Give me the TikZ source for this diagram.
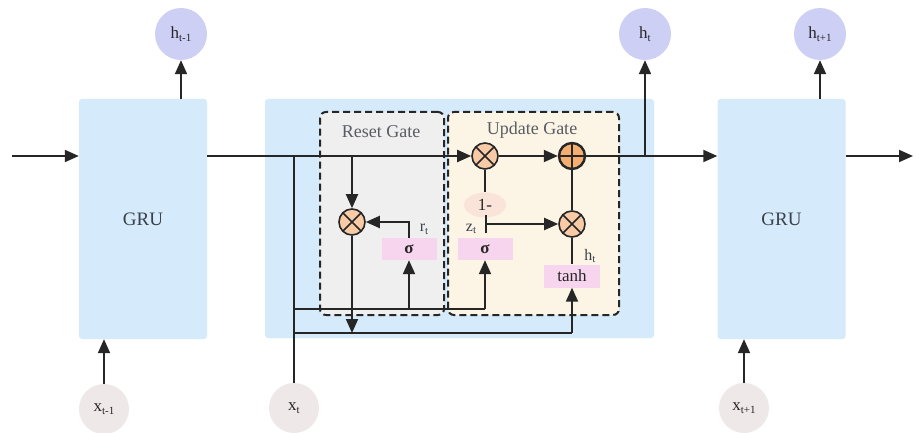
\documentclass[tikz,border=0pt]{standalone}
\usepackage{fontspec}
\setmainfont{Liberation Serif}
\usetikzlibrary{arrows.meta,shapes.geometric}
\definecolor{grublue}{HTML}{D5EAFB}
\definecolor{resetgray}{HTML}{EFEFEF}
\definecolor{updcream}{HTML}{FCF5E6}
\definecolor{opfill}{HTML}{F8CBA6}
\definecolor{plusfill}{HTML}{F4AE72}
\definecolor{sigpink}{HTML}{F8D5EE}
\definecolor{onefill}{HTML}{FAE3D8}
\definecolor{hcirc}{HTML}{CDCFF5}
\definecolor{xcirc}{HTML}{EFE8E8}
\definecolor{ink}{HTML}{262626}
\definecolor{txt}{HTML}{3A4048}
\newcommand{\mysub}[1]{\raisebox{-0.35ex}{\fontsize{11}{12}\selectfont #1}}
\begin{document}
\begin{tikzpicture}[x=1pt,y=-1pt,
  line/.style={draw=ink, line width=2pt},
  arr/.style={line, -{Triangle[length=14pt,width=12pt]}},
  grubox/.style={fill=grublue, rounded corners=3pt, minimum width=128pt, minimum height=240pt, inner sep=0pt, text=txt, font=\fontsize{19}{21}\selectfont},
  gatebox/.style={draw=ink, line width=2pt, dash pattern=on 7pt off 4pt, rounded corners=6pt, minimum height=203pt, inner sep=0pt},
  opx/.style={circle, draw=ink, line width=1.6pt, fill=opfill, minimum size=26pt, inner sep=0pt,
    path picture={\draw[ink, line width=1.6pt] (path picture bounding box.north west) -- (path picture bounding box.south east) (path picture bounding box.north east) -- (path picture bounding box.south west);}},
  opplus/.style={circle, draw=ink, line width=2.4pt, fill=plusfill, minimum size=26pt, inner sep=0pt,
    path picture={\draw[ink, line width=1.8pt] (path picture bounding box.north) -- (path picture bounding box.south) (path picture bounding box.east) -- (path picture bounding box.west);}},
  actbox/.style={fill=sigpink, minimum width=55pt, minimum height=22pt, inner sep=0pt, text=ink, font=\fontsize{17}{19}\selectfont},
  hnode/.style={circle, fill=hcirc, minimum size=52pt, inner sep=0pt, text=ink, font=\fontsize{17}{19}\selectfont},
  xnode/.style={circle, fill=xcirc, minimum size=50pt, inner sep=0pt, text=ink, font=\fontsize{17}{19}\selectfont},
  lbl/.style={text=txt, font=\fontsize{16}{18}\selectfont, inner sep=0pt},
  gtitle/.style={text=txt!85, font=\fontsize{18}{20}\selectfont, inner sep=0pt}
]
\useasboundingbox[fill=white] (0,0) rectangle (919,433);

% big boxes
\node[grubox] (gru1) at (143,219) {GRU};
\node[fill=grublue, rounded corners=3pt, minimum width=389pt, minimum height=239pt, inner sep=0pt] (mid) at (459.5,218.5) {};
\node[grubox] (gru3) at (781.5,219) {GRU};

% gate boxes
\node[gatebox, fill=resetgray, minimum width=124pt] (reset) at (382,213.5) {};
\node[gatebox, fill=updcream, minimum width=171pt] (update) at (533.5,213.5) {};
\node[gtitle] (rtitle) at (381,132) {Reset Gate};
\node[gtitle] (utitle) at (532,130) {Update Gate};

% h and x circles
\node[hnode] (hprev) at (181,34) {h\mysub{t-1}};
\node[hnode] (ht) at (645,34) {h\mysub{t}};
\node[hnode] (hnext) at (820,34) {h\mysub{t+1}};
\node[xnode] (xprev) at (104,409) {x\mysub{t-1}};
\node[xnode] (xt) at (294,408) {x\mysub{t}};
\node[xnode] (xnext) at (744,408) {x\mysub{t+1}};

% operators
\node[opx] (mu1) at (485,156) {};
\node[opplus] (plus) at (572,156) {};
\node[opx] (mr) at (352,222) {};
\node[opx] (mh) at (572,224) {};
\node[actbox] (sigr) at (409,249) {\bfseries σ};
\node[actbox] (sigz) at (485,249) {\bfseries σ};
\node[actbox, minimum width=56pt, minimum height=23pt] (tanh) at (572,276) {tanh};
\node[ellipse, fill=onefill, minimum width=42pt, minimum height=25pt, inner sep=0pt, text=ink, font=\fontsize{17}{19}\selectfont] (one) at (485,205) {1-};

% labels
\node[lbl] (rlab) at (424,229) {r\mysub{t}};
\node[lbl] (zlab) at (471,229) {z\mysub{t}};
\node[lbl] (hlab) at (590,256) {h\mysub{t}};

% coordinates
\coordinate (in) at (12,156);
\coordinate (out) at (913,156);
\coordinate (xtop) at (294,156);
\coordinate (jh) at (645,156);
\coordinate (rdown) at (352,156);
\coordinate (l1) at (294,309);
\coordinate (l1r) at (409,309);
\coordinate (l1z) at (485,309);
\coordinate (l2) at (294,333);
\coordinate (l2r) at (352,333);
\coordinate (l2t) at (572,333);
\coordinate (zt) at (485,224);

% main line
\draw[arr] (in) -- (gru1.west |- in);
\draw[arr] (gru1.east |- in) -- (mu1.west);
\draw[arr] (mu1.east) -- (plus.west);
\draw[line] (plus.east) -- (jh);
\draw[arr] (jh) -- (ht.south);
\draw[arr] (jh) -- (gru3.west |- jh);
\draw[arr] (gru3.east |- out) -- (out);

% side GRU in/out
\draw[arr] (gru1.north -| hprev) -- (hprev.south);
\draw[arr] (xprev.north) -- (gru1.south -| xprev);
\draw[arr] (gru3.north -| hnext) -- (hnext.south);
\draw[arr] (xnext.north) -- (gru3.south -| xnext);

% x_t distribution
\draw[line] (xt.north) -- (xtop);
\draw[line] (l1) -- (l1z);
\draw[arr] (l1z) -- (sigz.south);
\draw[arr] (l1r) -- (sigr.south);
\draw[line] (l2) -- (l2t);
\draw[arr] (l2t) -- (tanh.south);

% reset gate
\draw[arr] (rdown) -- (mr.north);
\draw[arr] (mr.south) -- (l2r);
\draw[arr] (sigr.north) |- (mr.east);

% update gate
\draw[line] (mu1.south) -- (one.north);
\draw[line, {Bar[width=17pt]}-{Triangle[length=14pt,width=12pt]}] (zt) -- (mh.west);
\draw[line] (plus.south) -- (mh.north);
\draw[line] (mh.south) -- (tanh.north);
\end{tikzpicture}
\end{document}
